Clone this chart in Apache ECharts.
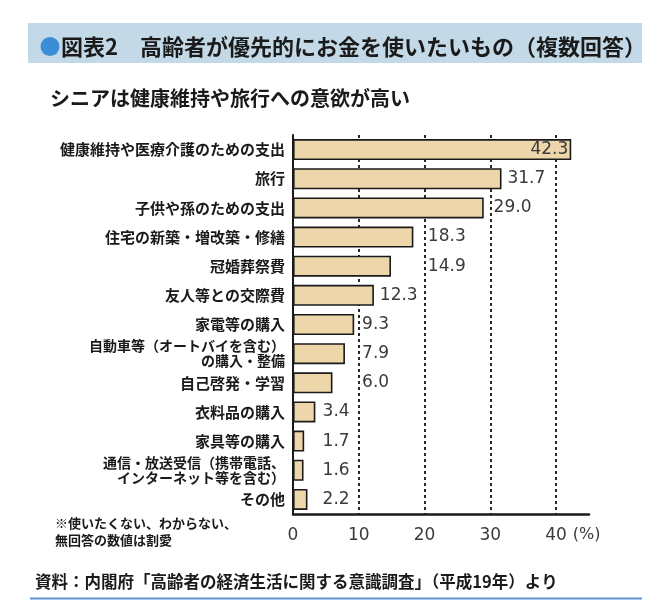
<!DOCTYPE html>
<html><head><meta charset="utf-8">
<script src="https://cdn.jsdelivr.net/npm/echarts@6/dist/echarts.min.js"></script>
<style>html,body{margin:0;padding:0;background:#fff}#c{width:654px;height:600px}</style>
</head><body><div id="c"></div>
<script>
const categories = [
  '健康維持や医療介護のための支出',
  '旅行',
  '子供や孫のための支出',
  '住宅の新築・増改築・修繕',
  '冠婚葬祭費',
  '友人等との交際費',
  '家電等の購入',
  '自動車等（オートバイを含む）\nの購入・整備',
  '自己啓発・学習',
  '衣料品の購入',
  '家具等の購入',
  '通信・放送受信（携帯電話、\nインターネット等を含む）',
  'その他'
];
const values = [42.3, 31.7, 29.0, 18.3, 14.9, 12.3, 9.3, 7.9, 6.0, 3.4, 1.7, 1.6, 2.2];
const xTickLabels = ['0', '10', '20', '30', '40'];
const titleText = '図表2　高齢者が優先的にお金を使いたいもの（複数回答）';
const subtitleText = 'シニアは健康維持や旅行への意欲が高い';
const noteText = '※使いたくない、わからない、\n無回答の数値は割愛';
const sourceText = '資料：内閣府「高齢者の経済生活に関する意識調査」（平成19年）より';

const JP = '"Noto Sans CJK JP","Noto Sans",sans-serif';
const NUM = '"DejaVu Sans",sans-serif';
const gridLeft = 293, gridRight = 65, xMax = 45;
const pxPerUnit = (654 - gridLeft - gridRight) / xMax;

// label placement: keep labels clear of the dashed gridlines
function labelFor(v) {
  if (v > 40) return {position: 'insideRight', distance: 3};
  const next = Math.ceil(v / 10) * 10;
  let start;
  if (next - v < 6) start = next + 0.5;
  else start = v + 0.9;
  if (v < 10) start = Math.max(start, 4.5);
  return {position: 'right', distance: (start - v) * pxPerUnit};
}

const chart = echarts.init(document.getElementById('c'), null, {renderer: 'canvas'});
chart.setOption({
  animation: false,
  backgroundColor: '#ffffff',
  grid: {left: gridLeft, right: gridRight, top: 135, bottom: 86, containLabel: false},
  xAxis: {
    type: 'value', min: 0, max: xMax, interval: 10,
    axisLine: {show: true, lineStyle: {color: '#1a1a1a', width: 2.5}},
    axisTick: {show: false},
    axisLabel: {
      showMaxLabel: false, margin: 13,
      fontFamily: NUM, fontSize: 17, color: '#3a3a3a',
      formatter: (v) => { const i = xTickLabels.indexOf(String(v)); return i >= 0 ? xTickLabels[i] : ''; }
    },
    splitLine: {show: true, showMinLine: false, showMaxLine: false,
      lineStyle: {type: [3, 3], color: '#111', width: 1.8}},
    name: '(%)', nameLocation: 'end', nameGap: -18,
    nameTextStyle: {fontFamily: NUM, fontSize: 16, color: '#3a3a3a', align: 'left', verticalAlign: 'top', padding: [13, 0, 0, 0]}
  },
  yAxis: {
    type: 'category', data: categories, inverse: true,
    axisLine: {show: true, lineStyle: {color: '#1a1a1a', width: 2}},
    axisTick: {show: false},
    axisLabel: {
      margin: 8, fontFamily: JP, fontSize: 15, fontWeight: 'bold', color: '#1a1a1a',
      formatter: (s) => s.indexOf('\n') >= 0 ? s.split('\n').map(l => '{s|' + l + '}').join('\n') : s,
      rich: {s: {fontFamily: JP, fontSize: 14, fontWeight: 'bold', lineHeight: 15, color: '#1a1a1a', align: 'right'}}
    }
  },
  series: [{
    type: 'bar', z: 3,
    barCategoryGap: '28%',
    data: values.map(v => ({value: v, label: labelFor(v)})),
    itemStyle: {color: '#edd6aa', borderColor: '#1a1a1a', borderWidth: 1.6},
    label: {show: true, fontFamily: NUM, fontSize: 17, color: '#3a3a3a',
      formatter: (p) => p.value.toFixed(1)}
  }],
  graphic: [
    {type: 'rect', left: 28, top: 23, shape: {width: 614, height: 40}, style: {fill: '#c3d9e7'}, z: 0},
    {type: 'circle', shape: {cx: 50, cy: 46.5, r: 9.5}, style: {fill: '#3b8dd6'}, z: 1},
    {type: 'text', x: 61, y: 47, z: 2, style: {text: titleText, font: 'bold 22px ' + JP, fill: '#1a1a1a', verticalAlign: 'middle', textVerticalAlign: 'middle'}},
    {type: 'text', x: 50, y: 98, z: 2, style: {text: subtitleText, font: 'bold 20px ' + JP, fill: '#1a1a1a', verticalAlign: 'middle', textVerticalAlign: 'middle'}},
    {type: 'text', x: 55, y: 515, z: 2, style: {text: noteText, font: 'bold 13px ' + JP, lineHeight: 17, fill: '#1a1a1a', verticalAlign: 'top', textVerticalAlign: 'top'}},
    {type: 'text', x: 35, y: 582, z: 2, style: {text: sourceText, font: 'bold 16.5px ' + JP, fill: '#1a1a1a', verticalAlign: 'middle', textVerticalAlign: 'middle'}},
    {type: 'line', shape: {x1: 30, y1: 598.5, x2: 642, y2: 598.5}, style: {stroke: '#5f95cf', lineWidth: 2}}
  ]
});
</script></body></html>
